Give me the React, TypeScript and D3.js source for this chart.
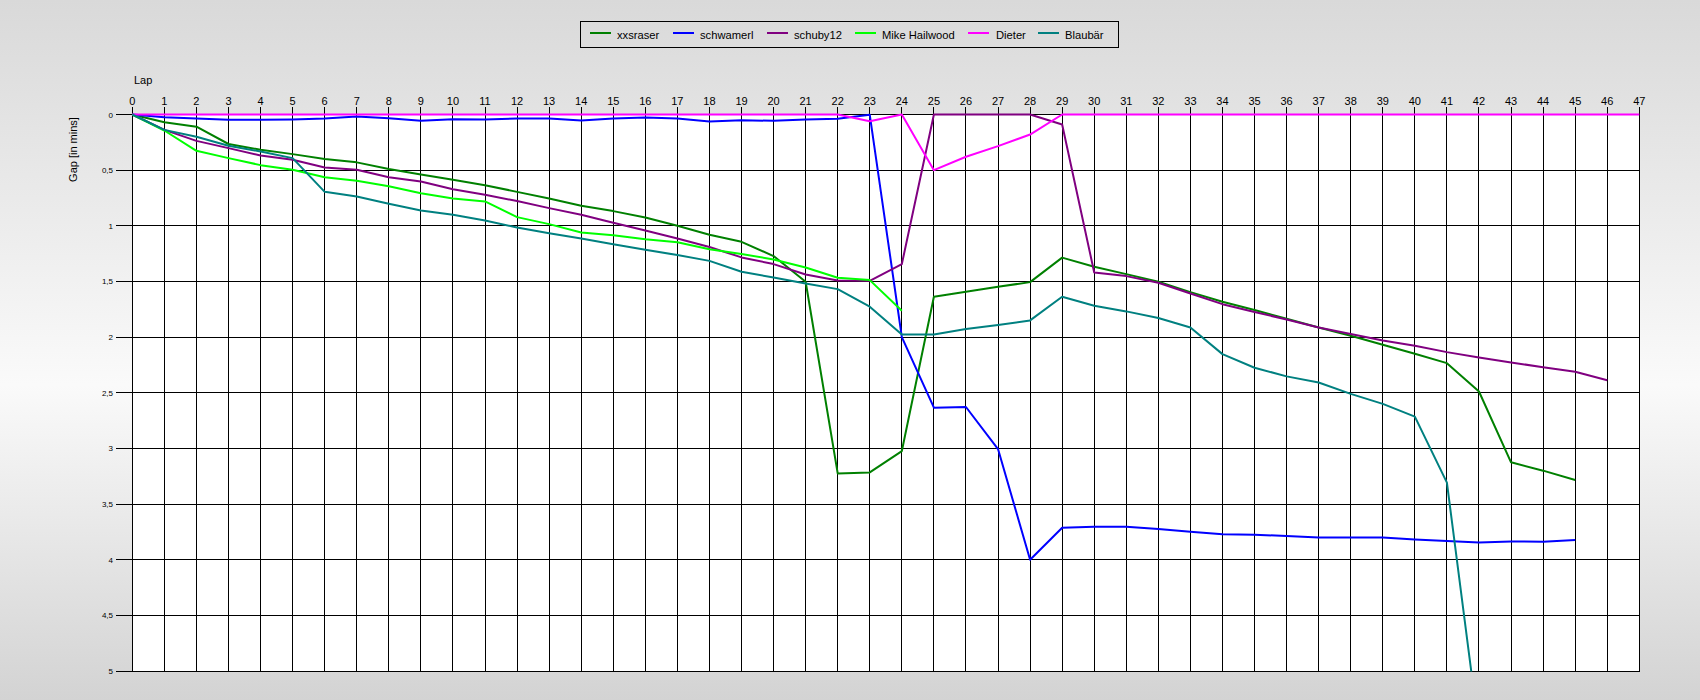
import React from "react";
import * as d3 from "d3";

// ---------- data (index = lap) ----------
const seriesNames = ["xxsraser", "schwamerl", "schuby12", "Mike Hailwood", "Dieter", "Blaubär"];
const seriesColors = ["#008000", "#0000ff", "#800080", "#00ff00", "#ff00ff", "#008080"];

const xxsraser = [
  0, 0.07, 0.11, 0.265, 0.317, 0.356, 0.4, 0.43, 0.49, 0.54,
  0.587, 0.635, 0.695, 0.754, 0.82, 0.868, 0.925, 1.0, 1.08, 1.144,
  1.272, 1.503, 3.225, 3.216, 3.024, 1.638, 1.593, 1.548, 1.506, 1.286,
  1.368, 1.434, 1.503, 1.596, 1.683, 1.757, 1.835, 1.913, 1.988, 2.069,
  2.15, 2.234, 2.489, 3.125, 3.2, 3.284,
];
const schwamerl = [
  0, 0.024, 0.036, 0.048, 0.048, 0.045, 0.036, 0.018, 0.033, 0.057,
  0.042, 0.045, 0.036, 0.036, 0.054, 0.036, 0.027, 0.036, 0.063, 0.051,
  0.057, 0.045, 0.039, 0.003, 2.0, 2.634, 2.628, 3.006, 4.0, 3.713,
  3.704, 3.704, 3.725, 3.749, 3.772, 3.775, 3.787, 3.8, 3.8, 3.8,
  3.818, 3.833, 3.845, 3.836, 3.839, 3.824,
];
const schuby12 = [
  0, 0.138, 0.237, 0.302, 0.368, 0.407, 0.476, 0.497, 0.563, 0.602,
  0.671, 0.722, 0.778, 0.841, 0.901, 0.973, 1.042, 1.114, 1.19, 1.284,
  1.344, 1.437, 1.491, 1.494, 1.344, 0, 0, 0, 0, 0.09,
  1.419, 1.452, 1.512, 1.608, 1.704, 1.775, 1.841, 1.913, 1.973, 2.03,
  2.078, 2.135, 2.183, 2.228, 2.27, 2.312, 2.387,
];
const mikeHailwood = [
  0, 0.144, 0.326, 0.392, 0.455, 0.497, 0.563, 0.596, 0.644, 0.707,
  0.754, 0.781, 0.922, 0.985, 1.06, 1.084, 1.12, 1.147, 1.21, 1.254,
  1.302, 1.374, 1.467, 1.488, 1.763,
];
const dieter = [
  0, 0, 0, 0, 0, 0, 0, 0, 0, 0,
  0, 0, 0, 0, 0, 0, 0, 0, 0, 0,
  0, 0, 0, 0.06, 0, 0.5, 0.38, 0.284, 0.18, 0,
  0, 0, 0, 0, 0, 0, 0, 0, 0, 0,
  0, 0, 0, 0, 0, 0, 0, 0,
];
const blaubaer = [
  0, 0.138, 0.2, 0.281, 0.332, 0.392, 0.695, 0.737, 0.802, 0.862,
  0.901, 0.952, 1.015, 1.066, 1.114, 1.165, 1.216, 1.263, 1.315, 1.413,
  1.464, 1.518, 1.569, 1.727, 1.976, 1.976, 1.928, 1.892, 1.85, 1.638,
  1.719, 1.769, 1.829, 1.913, 2.153, 2.275, 2.353, 2.408, 2.51, 2.6,
  2.714, 3.308, 5.54,
];
const seriesValues = [xxsraser, schwamerl, schuby12, mikeHailwood, dieter, blaubaer];

const lapTicks = d3.range(0, 48);
const gapTicks = d3.range(0, 5.0001, 0.5);
const gapTickLabels = ["0", "0,5", "1", "1,5", "2", "2,5", "3", "3,5", "4", "4,5", "5"];

// ---------- layout ----------
const W = 1700;
const H = 700;
const PLOT_LEFT = 132.3;
const PLOT_RIGHT = 1639.3;
const PLOT_TOP = 114.5;
const PLOT_BOTTOM = 671;
const LEGEND_BOX = { x: 580.5, y: 21.5, w: 538, h: 26 };
const LEGEND_LINE_X = [590, 673, 767, 855, 968, 1038];
const LEGEND_LINE_LEN = 21;
const LEGEND_TEXT_X = [617, 700, 794, 882, 996, 1065];
const FONT = "'Liberation Sans', Arial, sans-serif";

const crisp = (v: number) => Math.round(v - 0.5) + 0.5;

export default function App() {
  const x = d3.scaleLinear().domain([0, 47]).range([PLOT_LEFT, PLOT_RIGHT]);
  const y = d3.scaleLinear().domain([0, 5]).range([PLOT_TOP, PLOT_BOTTOM]);
  const line = d3
    .line<number>()
    .x((_, i) => x(i))
    .y((d) => y(d));

  return (
    <svg
      width={W}
      height={H}
      style={{ position: "absolute", left: 0, top: 0, display: "block" }}
      fontFamily={FONT}
    >
      <defs>
        <linearGradient id="bg" x1="0" y1="0" x2="0" y2="1">
          <stop offset="0" stopColor="#d9d9d9" />
          <stop offset="0.55" stopColor="#fafafa" />
          <stop offset="1" stopColor="#d3d3d3" />
        </linearGradient>
        <clipPath id="plotClip">
          <rect x={PLOT_LEFT - 2} y={PLOT_TOP - 3} width={PLOT_RIGHT - PLOT_LEFT + 4} height={PLOT_BOTTOM - PLOT_TOP + 3.5} />
        </clipPath>
      </defs>
      <rect x={0} y={0} width={W} height={H} fill="url(#bg)" />

      {/* legend */}
      <rect
        x={LEGEND_BOX.x}
        y={LEGEND_BOX.y}
        width={LEGEND_BOX.w}
        height={LEGEND_BOX.h}
        fill="none"
        stroke="#000"
        strokeWidth={1}
      />
      {seriesNames.map((name, i) => (
        <g key={name}>
          <line
            x1={LEGEND_LINE_X[i]}
            x2={LEGEND_LINE_X[i] + LEGEND_LINE_LEN}
            y1={33}
            y2={33}
            stroke={seriesColors[i]}
            strokeWidth={2}
          />
          <text x={LEGEND_TEXT_X[i]} y={38.5} fontSize={11.2} fill="#000">
            {name}
          </text>
        </g>
      ))}

      {/* plot background */}
      <rect
        x={PLOT_LEFT}
        y={PLOT_TOP}
        width={PLOT_RIGHT - PLOT_LEFT}
        height={PLOT_BOTTOM - PLOT_TOP}
        fill="#fff"
      />

      {/* vertical grid + top ticks */}
      {lapTicks.map((t) => (
        <g key={"v" + t}>
          <line
            x1={crisp(x(t))}
            x2={crisp(x(t))}
            y1={107}
            y2={PLOT_BOTTOM + 0.5}
            stroke="#000"
            strokeWidth={1}
            shapeRendering="crispEdges"
          />
          <text x={x(t)} y={105} fontSize={11} textAnchor="middle" fill="#000">
            {t}
          </text>
        </g>
      ))}

      {/* horizontal grid + left ticks */}
      {gapTicks.map((t, i) => (
        <g key={"h" + i}>
          <line
            x1={116}
            x2={crisp(PLOT_RIGHT) + 0.5}
            y1={crisp(y(t))}
            y2={crisp(y(t))}
            stroke="#000"
            strokeWidth={1}
            shapeRendering="crispEdges"
          />
          <text x={113} y={y(t) + 3} fontSize={8} textAnchor="end" fill="#000">
            {gapTickLabels[i]}
          </text>
        </g>
      ))}

      {/* axis titles */}
      <text x={134} y={84} fontSize={11} fill="#000">
        Lap
      </text>
      <text
        transform={`translate(77,149.5) rotate(-90)`}
        fontSize={11}
        textAnchor="middle"
        fill="#000"
      >
        Gap [in mins]
      </text>

      {/* series */}
      <g clipPath="url(#plotClip)">
        {seriesValues.map((vals, i) => (
          <path
            key={seriesNames[i]}
            d={line(vals) || ""}
            fill="none"
            stroke={seriesColors[i]}
            strokeWidth={2}
            strokeLinejoin="round"
          />
        ))}
      </g>
    </svg>
  );
}
